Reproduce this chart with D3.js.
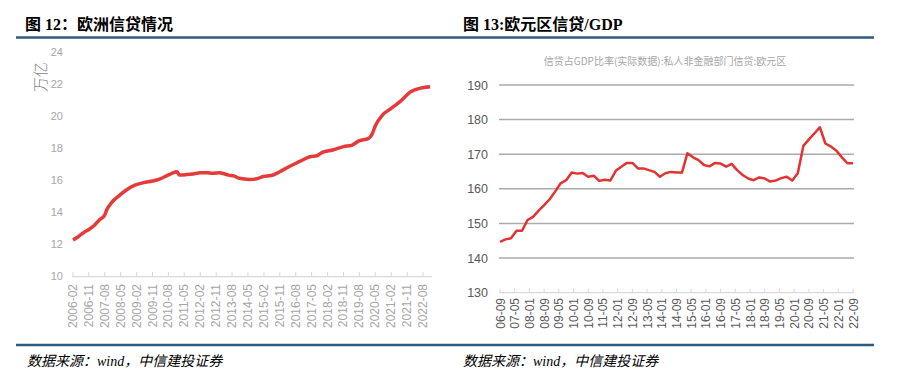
<!DOCTYPE html>
<html>
<head>
<meta charset="utf-8">
<script src="https://cdn.jsdelivr.net/npm/d3@7/dist/d3.min.js"></script>
<style>
  body { margin: 0; background: #fff; }
  svg { display: block; }
  .title { font-family: "Liberation Serif", "Noto Sans CJK SC", serif; font-weight: bold; font-size: 16px; fill: #000; }
  .source { font-family: "Liberation Serif", "Noto Sans CJK SC", serif; font-style: italic; font-size: 14px; fill: #000; }
</style>
</head>
<body>
<div id="chart"></div>
<script>
// left chart: 欧洲信贷 (万亿)
var euDates = ["2006-02", "2006-05", "2006-08", "2006-11", "2007-02", "2007-05", "2007-08", "2007-09", "2007-12",
  "2008-04", "2008-08", "2009-01", "2009-06", "2009-11", "2010-03", "2010-07", "2010-10", "2011-01", "2011-02",
  "2011-06", "2011-10", "2012-02", "2012-06", "2012-09", "2013-01", "2013-03", "2013-06", "2013-09", "2013-12",
  "2014-06", "2014-10", "2015-02", "2015-06", "2015-11", "2016-05", "2016-10", "2017-04", "2017-08", "2017-11",
  "2018-05", "2018-11", "2019-04", "2019-08", "2020-01", "2020-03", "2020-05", "2020-09", "2021-02", "2021-07",
  "2022-01", "2022-06", "2022-12"];
var euValues = [12.3, 12.5, 12.75, 12.95, 13.2, 13.55, 13.85, 14.15, 14.65,
  15.05, 15.4, 15.72, 15.88, 15.98, 16.1, 16.3, 16.46, 16.56, 16.36,
  16.38, 16.42, 16.5, 16.5, 16.46, 16.5, 16.45, 16.35, 16.3, 16.15,
  16.08, 16.12, 16.28, 16.32, 16.56, 16.92, 17.19, 17.5, 17.56, 17.77,
  17.92, 18.13, 18.23, 18.5, 18.63, 18.86, 19.42, 20.1, 20.52, 20.94,
  21.56, 21.77, 21.87];
var euTicksY = [10, 12, 14, 16, 18, 20, 22, 24];
var euTicksX = ["2006-02", "2006-11", "2007-08", "2008-05", "2009-02", "2009-11", "2010-08", "2011-05", "2012-02",
  "2012-11", "2013-08", "2014-05", "2015-02", "2015-11", "2016-08", "2017-05", "2018-02", "2018-11", "2019-08",
  "2020-05", "2021-02", "2021-11", "2022-08"];

// right chart: 信贷/GDP, quarterly from 2006-09
var gdpStart = "2006-09";
var gdpValues = [144.7, 145.4, 145.7, 147.9, 147.9, 151.0, 151.9, 153.7, 155.3, 157.0,
  159.2, 161.6, 162.5, 164.7, 164.4, 164.6, 163.5, 163.8, 162.3, 162.6,
  162.4, 165.2, 166.4, 167.5, 167.5, 165.9, 165.9, 165.4, 164.9, 163.5,
  164.5, 164.9, 164.7, 164.7, 170.3, 169.1, 168.3, 166.9, 166.5, 167.5,
  167.3, 166.4, 167.2, 165.4, 164.0, 163.0, 162.5, 163.3, 163.0, 162.1,
  162.4, 163.1, 163.5, 162.4, 164.5, 172.4, 174.3, 176.0, 177.8, 173.1,
  172.2, 171.0, 169.1, 167.4, 167.4];
var gdpTicksY = [130, 140, 150, 160, 170, 180, 190];
var gdpTicksX = ["06-09", "07-05", "08-01", "08-09", "09-05", "10-01", "10-09", "11-05", "12-01", "12-09",
  "13-05", "14-01", "14-09", "15-05", "16-01", "16-09", "17-05", "18-01", "18-09", "19-05",
  "20-01", "20-09", "21-05", "22-01", "22-09"];

var parseYM = d3.timeParse("%Y-%m");
var parseShort = d3.timeParse("%y-%m");

var svg = d3.select("#chart").append("svg")
  .attr("width", 910)
  .attr("height", 388);

// headings and rules
svg.append("text").attr("class", "title").attr("x", 25).attr("y", 30).text("图 12：欧洲信贷情况");
svg.append("text").attr("class", "title").attr("x", 463).attr("y", 30).text("图 13:欧元区信贷/GDP");
svg.append("line").attr("x1", 16).attr("x2", 874).attr("y1", 37.5).attr("y2", 37.5)
  .attr("stroke", "#2b5b80").attr("stroke-width", 2.5);
svg.append("line").attr("x1", 16).attr("x2", 874).attr("y1", 345).attr("y2", 345)
  .attr("stroke", "#2b5b80").attr("stroke-width", 2.5);
svg.append("text").attr("class", "source").attr("x", 27).attr("y", 366).text("数据来源：wind，中信建投证券");
svg.append("text").attr("class", "source").attr("x", 463).attr("y", 366).text("数据来源：wind，中信建投证券");

/* LEFT */
function drawLeft() {
  var g = svg.append("g");
  var x = d3.scaleTime()
    .domain([parseYM("2006-02"), parseYM("2022-08")])
    .range([73, 423]);
  var y = d3.scaleLinear().domain([10, 24]).range([276.7, 52.7]);

  g.selectAll(".ylab").data(euTicksY).enter().append("text")
    .attr("x", 63).attr("y", function (d) { return y(d) + 3.5; })
    .attr("text-anchor", "end")
    .style("font-family", "Liberation Sans Narrow, Liberation Sans, sans-serif")
    .style("font-size", "11px").style("fill", "#a6a6a6")
    .text(function (d) { return d; });

  g.append("text")
    .attr("transform", "translate(46,77) rotate(-90)")
    .attr("text-anchor", "middle")
    .style("font-family", "Noto Sans CJK SC")
    .style("font-size", "15px").style("font-weight", "300").style("fill", "#7f7f7f")
    .text("万亿");

  // axis
  g.append("line").attr("x1", 72).attr("x2", 432).attr("y1", 276.7).attr("y2", 276.7)
    .attr("stroke", "#d9d9d9").attr("stroke-width", 1.2);
  g.selectAll(".tk").data(euTicksX).enter().append("line")
    .attr("x1", function (d) { return x(parseYM(d)); })
    .attr("x2", function (d) { return x(parseYM(d)); })
    .attr("y1", 272).attr("y2", 276.7)
    .attr("stroke", "#d9d9d9");
  g.selectAll(".xlab").data(euTicksX).enter().append("text")
    .attr("transform", function (d) { return "translate(" + (x(parseYM(d)) + 4) + ",284) rotate(-90)"; })
    .attr("text-anchor", "end")
    .style("font-family", "Liberation Sans, sans-serif")
    .style("font-size", "12px").style("fill", "#a6a6a6")
    .text(function (d) { return d; });

  var line = d3.line()
    .x(function (d, i) { return x(parseYM(euDates[i])); })
    .y(function (d) { return y(d); })
    .curve(d3.curveMonotoneX);
  g.append("path").datum(euValues)
    .attr("d", line)
    .attr("fill", "none")
    .attr("stroke", "#e53a3a")
    .attr("stroke-width", 3.5)
    .attr("stroke-linejoin", "round");
}

/* RIGHT */
function drawRight() {
  var g = svg.append("g");
  var x = d3.scaleTime()
    .domain([parseYM(gdpStart), d3.timeMonth.offset(parseYM(gdpStart), 192)])
    .range([500, 853]);
  var y = d3.scaleLinear().domain([130, 190]).range([292.7, 85]);

  g.append("text")
    .attr("x", 665).attr("y", 65)
    .attr("text-anchor", "middle")
    .style("font-family", "Noto Sans CJK SC")
    .style("font-size", "10px").style("fill", "#a6a6a6")
    .text("信贷占GDP比率(实际数据):私人非金融部门信贷:欧元区");

  g.selectAll(".grid").data(gdpTicksY.slice(1)).enter().append("line")
    .attr("x1", 499).attr("x2", 854)
    .attr("y1", function (d) { return y(d); }).attr("y2", function (d) { return y(d); })
    .attr("stroke", "#ababab").attr("stroke-width", 1.5);

  g.selectAll(".ylab").data(gdpTicksY).enter().append("text")
    .attr("x", 488).attr("y", function (d) { return y(d) + 4.5; })
    .attr("text-anchor", "end")
    .style("font-family", "Liberation Sans, sans-serif")
    .style("font-size", "12.5px").style("fill", "#595959")
    .text(function (d) { return d; });

  g.append("line").attr("x1", 499).attr("x2", 854).attr("y1", y(130)).attr("y2", y(130))
    .attr("stroke", "#d9d9d9").attr("stroke-width", 1.2);
  g.selectAll(".tk").data(gdpTicksX).enter().append("line")
    .attr("x1", function (d) { return x(parseShort(d)); })
    .attr("x2", function (d) { return x(parseShort(d)); })
    .attr("y1", y(130) - 4).attr("y2", y(130))
    .attr("stroke", "#d9d9d9");
  g.selectAll(".xlab").data(gdpTicksX).enter().append("text")
    .attr("transform", function (d) { return "translate(" + (x(parseShort(d)) + 4.5) + ",298) rotate(-90)"; })
    .attr("text-anchor", "end")
    .style("font-family", "Liberation Sans, sans-serif")
    .style("font-size", "12px").style("fill", "#595959")
    .text(function (d) { return d; });

  var line = d3.line()
    .x(function (d, i) { return x(d3.timeMonth.offset(parseYM(gdpStart), i * 3)); })
    .y(function (d) { return y(d); });
  g.append("path").datum(gdpValues)
    .attr("d", line)
    .attr("fill", "none")
    .attr("stroke", "#e23232")
    .attr("stroke-width", 2.5)
    .attr("stroke-linejoin", "round");
}

drawLeft();
drawRight();
</script>
</body>
</html>
